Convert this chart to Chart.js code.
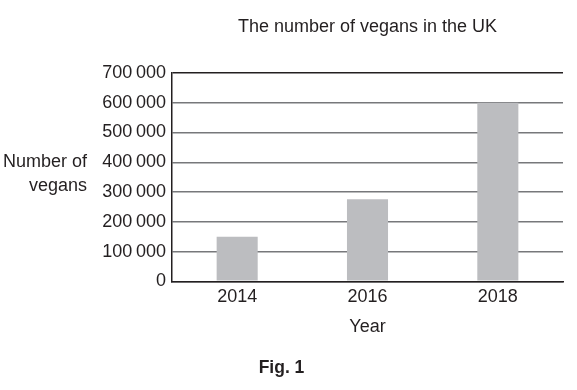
<!DOCTYPE html>
<html lang="en">

<head>
  <meta charset="UTF-8" />
  <title>The number of vegans in the UK</title>
  <script src="https://cdn.jsdelivr.net/npm/chart.js"></script>
  <style>
    html,
    body {
      margin: 0;
      padding: 0;
      background-color: #fff;
    }

    #veganChart {
      display: block;
    }
  </style>
</head>

<body>
  <canvas id="veganChart" width="577" height="390"></canvas>

  <script>
    // chart data
    const years = ['2014', '2016', '2018'];
    const vegans = [150000, 276000, 600000];
    const yTicks = [0, 100000, 200000, 300000, 400000, 500000, 600000, 700000];

    const ink = '#231f20';
    const gridGray = '#77787b';
    const fontFamily = "'Liberation Sans', Arial, sans-serif";

    Chart.defaults.font.family = fontFamily;
    Chart.defaults.color = ink;

    // y axis title is drawn flat, right aligned, left of the tick labels
    const yTitlePlugin = {
      id: 'yTitle',
      afterDraw(chart) {
        const c = chart.ctx;
        c.save();
        c.font = '18px ' + fontFamily;
        c.fillStyle = ink;
        c.textAlign = 'right';
        c.textBaseline = 'middle';
        c.fillText('Number of', 87, 162);
        c.fillText('vegans', 87, 186);
        c.restore();
      }
    };

    const ctx = document.getElementById('veganChart').getContext('2d');

    const veganChart = new Chart(ctx, {
      type: 'bar',
      data: {
        labels: years,
        datasets: [{
          label: 'Number of vegans',
          data: vegans,
          backgroundColor: '#bcbdc0',
          borderWidth: 0,
          categoryPercentage: 1,
          barPercentage: 0.315
        }]
      },
      options: {
        responsive: false,
        animation: false,
        devicePixelRatio: 1,
        layout: {
          padding: { left: 0, right: 14, top: 0, bottom: 0 }
        },
        plugins: {
          legend: { display: false },
          tooltip: { enabled: false },
          title: {
            display: true,
            text: 'The number of vegans in the UK',
            fullSize: false,
            font: { size: 18, weight: 'normal' },
            color: ink,
            padding: { top: 16.2, bottom: 35.2 }
          },
          subtitle: {
            display: true,
            position: 'bottom',
            text: 'Fig. 1',
            font: { size: 17.5, weight: 'bold' },
            color: ink,
            padding: { top: 12.8, bottom: 11.5 }
          }
        },
        scales: {
          x: {
            grid: { display: false, drawTicks: false },
            border: { display: true, color: ink, width: 1.5 },
            ticks: {
              font: { size: 18 },
              color: ink,
              padding: 4.7
            },
            title: {
              display: true,
              text: 'Year',
              font: { size: 18 },
              color: ink,
              padding: { top: 3.9, bottom: 6.9 }
            }
          },
          y: {
            min: 0,
            max: 700000,
            afterBuildTicks(scale) {
              scale.ticks = yTicks.map(v => ({ value: v }));
            },
            afterFit(scale) {
              scale.width = 172;
            },
            grid: {
              drawTicks: false,
              color: (c) => c.tick && c.tick.value === 700000 ? ink : gridGray,
              lineWidth: 1.5
            },
            border: { display: true, color: ink, width: 1.5 },
            ticks: {
              font: { size: 18 },
              color: ink,
              padding: 6,
              callback: (v) => v === 0 ? '0' : String(v / 1000) + '\u2009000'
            }
          }
        }
      },
      plugins: [yTitlePlugin]
    });
  </script>
</body>

</html>
